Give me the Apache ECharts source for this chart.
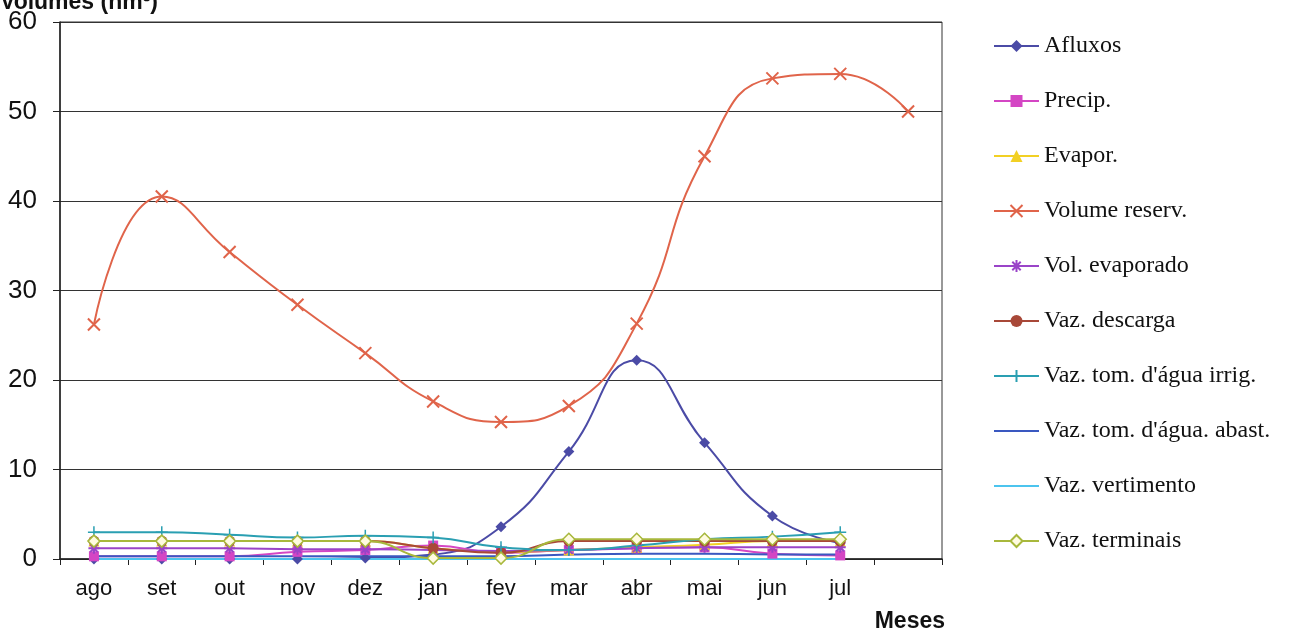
<!DOCTYPE html>
<html>
<head>
<meta charset="utf-8">
<script src="https://cdn.jsdelivr.net/npm/echarts@6/dist/echarts.min.js"></script>
<style>html,body{margin:0;padding:0;background:#fff;}#c{width:1289px;height:634px;}</style>
</head>
<body>
<div id="c"></div>
<script>
var categories = ['ago','set','out','nov','dez','jan','fev','mar','abr','mai','jun','jul',''];
var yTicks = [0,10,20,30,40,50,60];
var afluxos      = [0, 0, 0, 0, 0.1, 0.5, 3.6, 12, 22.2, 13, 4.8, 1.8, null];
var precip       = [0.3, 0.3, 0.3, 0.8, 1.0, 1.5, 0.7, 1.0, 1.2, 1.3, 0.6, 0.4, null];
var evapor       = [2.0, 2.0, 2.0, 2.0, 2.0, 1.2, 0.8, 1.0, 1.3, 1.6, 2.0, 2.0, null];
var volumeReserv = [26.2, 40.5, 34.3, 28.4, 23, 17.6, 15.3, 17.1, 26.3, 45, 53.7, 54.2, 50];
var volEvaporado = [1.2, 1.2, 1.2, 1.1, 1.1, 1.0, 0.9, 1.0, 1.2, 1.3, 1.3, 1.3, null];
var vazDescarga  = [2.0, 2.0, 2.0, 2.0, 2.0, 1.2, 0.7, 2.0, 2.0, 2.0, 2.0, 2.0, null];
var vazIrrig     = [3.0, 3.0, 2.7, 2.4, 2.6, 2.4, 1.3, 1.0, 1.5, 2.2, 2.5, 3.0, null];
var vazAbast     = [0.3, 0.3, 0.3, 0.3, 0.3, 0.3, 0.3, 0.5, 0.6, 0.6, 0.5, 0.5, null];
var vazVertim    = [0, 0, 0, 0, 0, 0, 0, 0, 0, 0, 0, 0, null];
var vazTerminais = [2.0, 2.0, 2.0, 2.0, 2.0, 0.1, 0.1, 2.2, 2.2, 2.2, 2.2, 2.2, null];

var chart = echarts.init(document.getElementById('c'), null, {renderer:'canvas'});
function mk(name, data, color, symbol, size, fill, extra){
  var s = {
    name: name, type: 'line', data: data, smooth: true, connectNulls: false,
    symbol: symbol, symbolSize: size, showSymbol: symbol !== 'none',
    lineStyle: {color: color, width: 2},
    itemStyle: {color: fill || color, borderColor: color, borderWidth: fill ? 1.5 : 0},
    emphasis: {disabled: true}, z: 2
  };
  if (extra) for (var k in extra) s[k] = extra[k];
  return s;
}
var xPath = 'path://M0,0 L10,10 M10,0 L0,10';
var plusPath = 'path://M5,0 L5,10 M0,5 L10,5';
var starPath = 'path://M5,0 L5,10 M0,5 L10,5 M1.5,1.5 L8.5,8.5 M8.5,1.5 L1.5,8.5';
var series = [
  mk('Afluxos', afluxos, '#4b4ba6', 'diamond', 11),
  mk('Precip.', precip, '#d446c4', 'rect', 10),
  mk('Evapor.', evapor, '#f2d024', 'triangle', 11),
  mk('Volume reserv.', volumeReserv, '#e0644a', xPath, 12, null, {itemStyle:{color:'#e0644a', borderColor:'#e0644a', borderWidth:2}}),
  mk('Vol. evaporado', volEvaporado, '#9a44c8', starPath, 11, null, {itemStyle:{color:'#9a44c8', borderColor:'#9a44c8', borderWidth:2}}),
  mk('Vaz. descarga', vazDescarga, '#a84838', 'circle', 11),
  mk('Vaz. tom. d\'água irrig.', vazIrrig, '#2a9fb2', plusPath, 12, null, {itemStyle:{color:'#2a9fb2', borderColor:'#2a9fb2', borderWidth:1.5}}),
  mk('Vaz. tom. d\'água. abast.', vazAbast, '#3a58c0', 'none', 0),
  mk('Vaz. vertimento', vazVertim, '#4cc4ee', 'none', 0),
  mk('Vaz. terminais', vazTerminais, '#a8b83c', 'diamond', 12, '#fffbe0')
];

var legendData = series.map(function(s){
  if (s.symbol === 'none') return {name: s.name, itemStyle: {opacity: 0}};
  return {name: s.name};
});

chart.setOption({
  animation: false,
  backgroundColor: '#ffffff',
  grid: {left: 60, right: 347, top: 22, bottom: 75, show: true, borderColor: '#333', borderWidth: 1, backgroundColor: 'transparent'},
  graphic: [
    {type: 'text', left: 0, top: -9, style: {text: 'Volumes (hm³)', font: 'bold 23px "Liberation Sans", Arial, sans-serif', fill: '#111'}},
    {type: 'text', right: 344, top: 610, style: {text: 'Meses', font: 'bold 23px "Liberation Sans", Arial, sans-serif', fill: '#111'}}
  ],
  legend: {
    orient: 'vertical', left: 988, top: 29, itemWidth: 45, itemHeight: 15, itemGap: 31,
    textStyle: {fontFamily: '"Liberation Serif", "Times New Roman", serif', fontSize: 24, color: '#111', lineHeight: 24},
    data: legendData
  },
  xAxis: {
    type: 'category', data: categories, boundaryGap: true,
    axisLine: {lineStyle: {color: '#222', width: 1.5}},
    axisTick: {show: true, interval: 0, length: 6, lineStyle: {color: '#222'}},
    axisLabel: {interval: 0, margin: 19, fontFamily: '"Liberation Sans", Arial, sans-serif', fontSize: 22, color: '#111'},
    splitLine: {show: false}
  },
  yAxis: {
    type: 'value', min: yTicks[0], max: yTicks[yTicks.length-1], interval: 10,
    axisLine: {show: true, lineStyle: {color: '#222', width: 1.5}},
    axisTick: {show: true, length: 7, lineStyle: {color: '#222'}},
    axisLabel: {margin: 23, fontFamily: '"Liberation Sans", Arial, sans-serif', fontSize: 26, color: '#111'},
    splitLine: {show: true, lineStyle: {color: '#333', width: 1}}
  },
  series: series
});
</script>
</body>
</html>
